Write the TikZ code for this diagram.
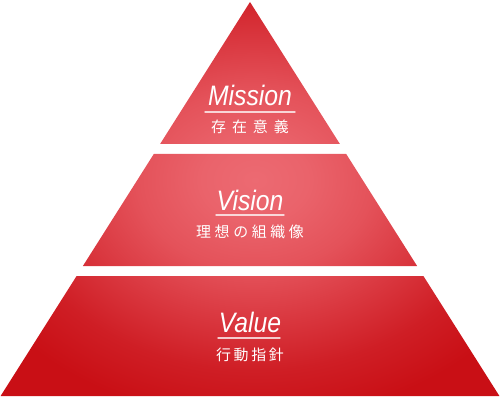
\documentclass[tikz,border=0pt]{standalone}
\usepackage{fontspec}
\setsansfont{Liberation Sans}
\newfontfamily\jpfont{Noto Sans CJK JP}
\usepackage{tkz-euclide}

\definecolor{glow0}{HTML}{EC6A72}
\definecolor{glow1}{HTML}{EA636B}
\definecolor{glow2}{HTML}{E4525A}
\definecolor{glow3}{HTML}{DA3840}
\definecolor{glow4}{HTML}{CF1E25}
\definecolor{glow5}{HTML}{C90F15}
\pgfdeclareradialshading{pyrglow}{\pgfpoint{0bp}{0bp}}{%
  color(0bp)=(glow0); color(2.7bp)=(glow1); color(6bp)=(glow2);
  color(9.3bp)=(glow3); color(12.7bp)=(glow4); color(16bp)=(glow5);
  color(50bp)=(glow5)}

\tikzset{
  tiername/.style={text=white, font=\sffamily\itshape\fontsize{16}{16}\selectfont, xscale=0.88, inner sep=0pt},
  tierjp/.style={text=white, font=\jpfont\fontsize{8.5}{8.5}\selectfont, inner sep=0pt}
}

\begin{document}
\begin{tikzpicture}
    \useasboundingbox (0,0) rectangle (10,8);
    \tkzSetUpLine[line width=0.8pt, color=white, opacity=0.75]
    \tkzDefPoints{5/7.96/A, 3.202/5.12/B, 6.798/5.12/C}
    \tkzDefPoints{3.076/4.92/D, 6.924/4.92/E, 8.342/2.68/F, 1.658/2.68/G}
    \tkzDefPoints{1.532/2.48/H, 8.468/2.48/J, 9.988/0.08/K, 0.012/0.08/L}
    \tkzDefPoints{4.1/5.76/P, 5.9/5.76/Q, 4.32/3.7/R, 5.68/3.7/S, 4.36/1.24/T, 5.6/1.24/U}

    \begin{scope}
      \clip (A) -- (B) -- (C) -- cycle
            (D) -- (E) -- (F) -- (G) -- cycle
            (H) -- (J) -- (K) -- (L) -- cycle;
      \shade[shading=pyrglow] (5.1,4.4) ellipse (9.75 and 7.5);
    \end{scope}

    \tkzDrawSegments(P,Q R,S T,U)

    \node[tiername] (mission) at (5,6.1) {Mission};
    \node[tierjp] (missionjp) at (5,5.46) {\addfontfeatures{LetterSpace=40}存在意義\hspace{-2.5pt}};
    \node[tiername] (vision) at (5,4.0) {Vision};
    \node[tierjp] (visionjp) at (5,3.36) {\addfontfeatures{LetterSpace=24}理想の組織像\hspace{-1.5pt}};
    \node[tiername] (value) at (5,1.56) {Value};
    \node[tierjp] (valuejp) at (5,0.9) {\addfontfeatures{LetterSpace=18}行動指針\hspace{-1pt}};
\end{tikzpicture}
\end{document}
